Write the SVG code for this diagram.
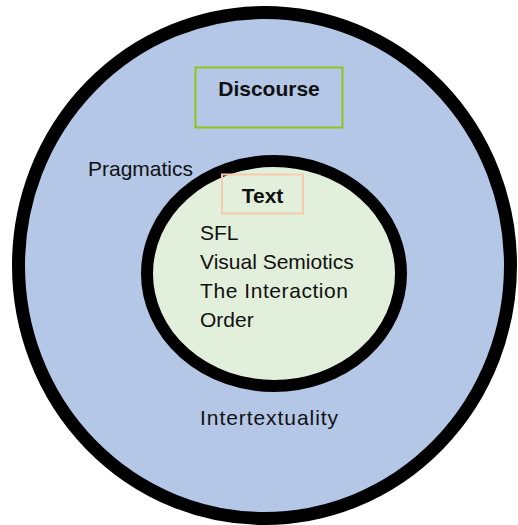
<svg xmlns="http://www.w3.org/2000/svg" width="518" height="525" viewBox="0 0 518 525">
<style>
.t{font-family:"Liberation Sans",Arial,sans-serif;font-size:21px;fill:#111}
.b{font-weight:bold;text-anchor:middle}
</style>
<rect width="518" height="525" fill="#fff"/>
<g id="discourse">
<ellipse cx="264.5" cy="265.5" rx="246" ry="253" fill="#B4C7E7" stroke="#000" stroke-width="13"/>
<rect x="195.5" y="67.5" width="147" height="60" fill="none" stroke="#92C31A" stroke-width="2"/>
<text class="t b" x="269" y="96">Discourse</text>
<text class="t" x="88" y="176">Pragmatics</text>
<text class="t" x="200" y="425" textLength="138" lengthAdjust="spacing">Intertextuality</text>
</g>
<g id="text">
<ellipse cx="274" cy="273.5" rx="127" ry="112.5" fill="#E2EFDA" stroke="#000" stroke-width="12"/>
<rect x="222" y="174.5" width="81" height="39" fill="none" stroke="#F8CBAD" stroke-width="2"/>
<text class="t b" x="262.5" y="203">Text</text>
<text class="t" x="200" y="240">SFL</text>
<text class="t" x="200" y="268.5">Visual Semiotics</text>
<text class="t" x="200" y="298" textLength="148" lengthAdjust="spacing">The Interaction</text>
<text class="t" x="200" y="327">Order</text>
</g>
<g id="connectors"/>
</svg>
